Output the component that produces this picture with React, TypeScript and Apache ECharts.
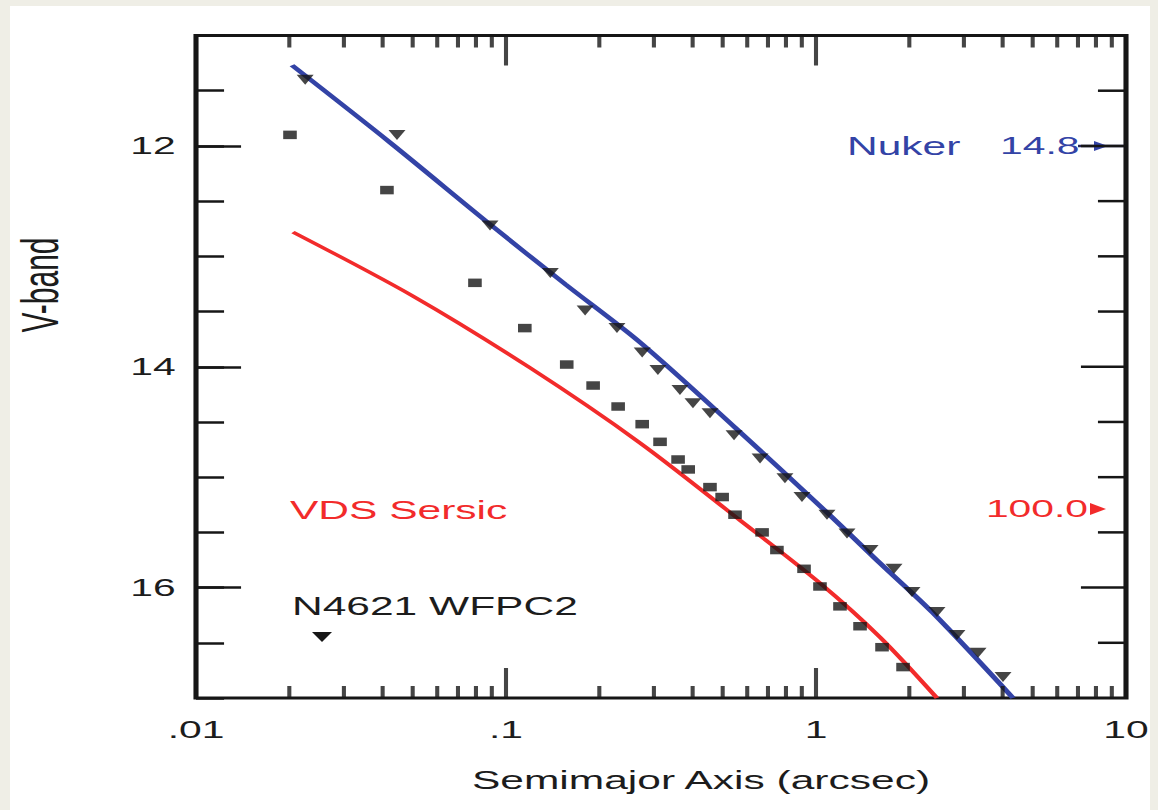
import { useEffect, useRef } from 'react';
import * as echarts from 'echarts';

// N4621 WFPC2 isophote measurements: semimajor axis (arcsec) and V-band surface brightness (mag)
const upperRadius = [0.0225, 0.0445, 0.0888, 0.139, 0.18, 0.228, 0.275, 0.309, 0.364, 0.401, 0.455, 0.544, 0.66, 0.794, 0.901, 1.085, 1.259, 1.494, 1.785, 2.04, 2.456, 2.849, 3.332, 4.011];
const upperMag = [11.4, 11.9, 12.72, 13.15, 13.49, 13.65, 13.87, 14.03, 14.21, 14.33, 14.42, 14.62, 14.83, 15.01, 15.18, 15.34, 15.51, 15.66, 15.83, 16.04, 16.22, 16.43, 16.59, 16.81];
const lowerRadius = [0.0201, 0.0413, 0.0794, 0.115, 0.157, 0.191, 0.23, 0.275, 0.314, 0.359, 0.387, 0.455, 0.498, 0.548, 0.67, 0.748, 0.915, 1.03, 1.195, 1.387, 1.633, 1.909];
const lowerMag = [11.9, 12.4, 13.24, 13.65, 13.98, 14.17, 14.36, 14.52, 14.68, 14.84, 14.93, 15.09, 15.18, 15.34, 15.5, 15.66, 15.83, 15.99, 16.17, 16.35, 16.54, 16.72];

// Model profiles
const nukerRadius = [0.0204, 0.0423, 0.0888, 0.155, 0.271, 0.548, 1.085, 1.61, 2.384, 4.32];
const nukerMag = [11.27, 11.97, 12.71, 13.25, 13.78, 14.55, 15.32, 15.78, 16.23, 17.0];
const sersicRadius = [0.02055, 0.0501, 0.1195, 0.2706, 0.5686, 1.03, 1.609, 2.456];
const sersicMag = [12.78, 13.36, 14.01, 14.69, 15.39, 15.96, 16.45, 17.0];

// Axis ranges and ticks
const xRange = [0.01, 10];
const xDecades = [0.01, 0.1, 1, 10];
const xMinorSteps = [2, 3, 4, 5, 6, 7, 8, 9];
const yRange = [11, 17];
const yStep = 0.5;
const yLabelled = [12, 14, 16];

const PAGE_W = 1158;
const PAGE_H = 810;
const CHART_W = 681; // drawn narrow, then stretched horizontally to the page width
const K = PAGE_W / CHART_W;
const sx = (v: number) => v / K;

const INK = '#161616';
const BLUE = '#3343a6';
const RED = '#f22b2b';
const FONT = "'Liberation Sans', Arial, sans-serif";

const zip = (xs: number[], ys: number[]) => xs.map((x, i) => [x, ys[i]]);

// x tick positions (arcsec)
const xMajorTicks = xDecades.filter((d) => d > xRange[0] && d < xRange[1]);
const xMinorTicks = xDecades.slice(0, -1).flatMap((d) => xMinorSteps.map((k) => k * d));
// right-hand frame ticks: [left edge radius, magnitude]
const yTickData: number[][] = [];
for (let i = 1; yRange[0] + i * yStep < yRange[1]; i++) yTickData.push([xRange[0], yRange[0] + i * yStep]);

// a tick mark drawn as a thin bar sitting on the bottom or top edge of the frame
const tickSeries = (ticks: number[], edge: 'bottom' | 'top', len: number) => ({
  name: `${edge} ticks`,
  type: 'scatter',
  silent: true,
  clip: false,
  z: 3,
  data: ticks.map((t) => [t, edge === 'bottom' ? yRange[1] : yRange[0]]),
  symbol: 'rect',
  symbolSize: [2.4, len],
  symbolOffset: [0, edge === 'bottom' ? -len / 2 : len / 2],
  itemStyle: { color: INK },
});

export default function App() {
  const ref = useRef<HTMLDivElement>(null);

  useEffect(() => {
    if (!ref.current) return;
    const chart = echarts.init(ref.current, undefined, { renderer: 'svg' });

    const yBase = {
      type: 'value' as const,
      inverse: true,
      min: yRange[0],
      max: yRange[1],
      interval: yStep,
      position: 'left' as const,
      splitLine: { show: false },
    };

    chart.setOption({
      animation: false,
      backgroundColor: '#efeee6',
      grid: {
        left: sx(196),
        right: CHART_W - sx(1126),
        top: 35.5,
        bottom: PAGE_H - 698,
        show: true,
        backgroundColor: 'transparent',
        borderColor: INK,
        borderWidth: 3,
      },
      xAxis: [
        {
          type: 'log',
          logBase: 10,
          min: xRange[0],
          max: xRange[1],
          position: 'bottom',
          splitLine: { show: false },
          axisLine: { show: false },
          axisTick: { show: false },
          axisLabel: {
            show: true,
            margin: 20,
            fontSize: 24,
            fontFamily: FONT,
            color: '#1c1c1c',
            formatter: (v: number) => (v < 1 ? String(v).replace(/^0/, '') : String(v)),
          },
        },
      ],
      yAxis: [
        {
          ...yBase,
          axisLine: { show: false },
          axisTick: { show: true, inside: true, length: 16.5, lineStyle: { color: INK, width: 2.5 } },
          axisLabel: {
            show: true,
            margin: 12,
            fontSize: 24,
            fontFamily: FONT,
            color: '#1c1c1c',
            formatter: (v: number) => (yLabelled.includes(v) ? String(v) : ''),
          },
        },
        {
          ...yBase,
          axisLine: { show: false },
          axisLabel: { show: false },
          axisTick: { show: true, inside: true, length: 26.5, customValues: yLabelled, lineStyle: { color: INK, width: 2.5 } },
        },
      ],
      series: [
        {
          name: 'Nuker',
          type: 'line',
          data: zip(nukerRadius, nukerMag),
          smooth: 0.3,
          symbol: 'none',
          clip: true,
          lineStyle: { color: BLUE, width: 3.5 },
        },
        {
          name: 'VDS Sersic',
          type: 'line',
          data: zip(sersicRadius, sersicMag),
          smooth: 0.3,
          symbol: 'none',
          clip: true,
          lineStyle: { color: RED, width: 3 },
        },
        {
          name: 'N4621 WFPC2',
          type: 'scatter',
          data: zip(upperRadius, upperMag),
          symbol: 'triangle',
          symbolRotate: 180,
          symbolSize: [10, 10],
          itemStyle: { color: INK },
          z: 5,
        },
        {
          name: 'N4621 WFPC2 inner',
          type: 'scatter',
          data: zip(lowerRadius, lowerMag),
          symbol: 'rect',
          symbolSize: [8, 8.5],
          itemStyle: { color: INK },
          z: 5,
        },
        tickSeries(xMajorTicks, 'bottom', 30),
        tickSeries(xMinorTicks, 'bottom', 12),
        tickSeries(xMajorTicks, 'top', 30),
        tickSeries(xMinorTicks, 'top', 12),
        {
          // inward ticks on the right-hand side of the frame
          name: 'right ticks',
          type: 'custom',
          silent: true,
          clip: false,
          data: yTickData,
          renderItem: (params: any, api: any) => {
            const cs = params.coordSys;
            const y = api.coord([api.value(0), api.value(1)])[1];
            const len = yLabelled.includes(api.value(1)) ? 26.5 : 16.5;
            const right = cs.x + cs.width;
            return { type: 'line', shape: { x1: right, y1: y, x2: right - len, y2: y }, style: { stroke: INK, lineWidth: 2.5 } };
          },
        },
      ],
      graphic: [
        {
          type: 'rect',
          z: -100,
          silent: true,
          shape: { x: sx(10), y: 6, width: sx(1150) - sx(10), height: PAGE_H - 6 },
          style: { fill: '#ffffff' },
        },
        {
          type: 'text',
          x: sx(40),
          y: 285,
          rotation: Math.PI / 2,
          style: { text: 'V-band', fill: '#1c1c1c', fontSize: 30, fontFamily: FONT, align: 'center', verticalAlign: 'middle' },
        },
        {
          type: 'text',
          x: sx(701),
          y: 780,
          style: { text: 'Semimajor Axis (arcsec)', fill: '#1c1c1c', fontSize: 25, fontFamily: FONT, align: 'center', verticalAlign: 'middle' },
        },
        {
          type: 'text',
          x: sx(847),
          y: 146,
          style: { text: 'Nuker', fill: BLUE, fontSize: 25, fontFamily: FONT, align: 'left', verticalAlign: 'middle' },
        },
        {
          type: 'text',
          x: sx(1000),
          y: 146,
          style: { text: '14.8', fill: BLUE, fontSize: 24, fontFamily: FONT, align: 'left', verticalAlign: 'middle' },
        },
        {
          type: 'line',
          shape: { x1: sx(1078), y1: 146, x2: sx(1124), y2: 146 },
          style: { stroke: '#26265a', lineWidth: 2.5 },
        },
        {
          type: 'polygon',
          shape: { points: [[sx(1094), 141], [sx(1108), 146], [sx(1094), 151]] },
          style: { fill: BLUE },
        },
        {
          type: 'text',
          x: sx(290),
          y: 510,
          style: { text: 'VDS Sersic', fill: RED, fontSize: 25, fontFamily: FONT, align: 'left', verticalAlign: 'middle' },
        },
        {
          type: 'text',
          x: sx(1088),
          y: 509,
          style: { text: '100.0', fill: RED, fontSize: 24, fontFamily: FONT, align: 'right', verticalAlign: 'middle' },
        },
        {
          type: 'polygon',
          shape: { points: [[sx(1090), 503], [sx(1106), 509], [sx(1090), 515]] },
          style: { fill: RED },
        },
        {
          type: 'text',
          x: sx(292),
          y: 606,
          style: { text: 'N4621 WFPC2', fill: '#1c1c1c', fontSize: 25, fontFamily: FONT, align: 'left', verticalAlign: 'middle' },
        },
        {
          type: 'polygon',
          shape: { points: [[sx(312), 632], [sx(332), 632], [sx(322), 642]] },
          style: { fill: INK },
        },
      ],
    });

    return () => chart.dispose();
  }, []);

  return (
    <div
      style={{
        position: 'fixed',
        left: 0,
        top: 0,
        width: PAGE_W,
        height: PAGE_H,
        overflow: 'hidden',
        background: '#efeee6',
      }}
    >
      <div
        ref={ref}
        style={{
          width: CHART_W,
          height: PAGE_H,
          transform: `scaleX(${K})`,
          transformOrigin: '0 0',
        }}
      />
    </div>
  );
}
